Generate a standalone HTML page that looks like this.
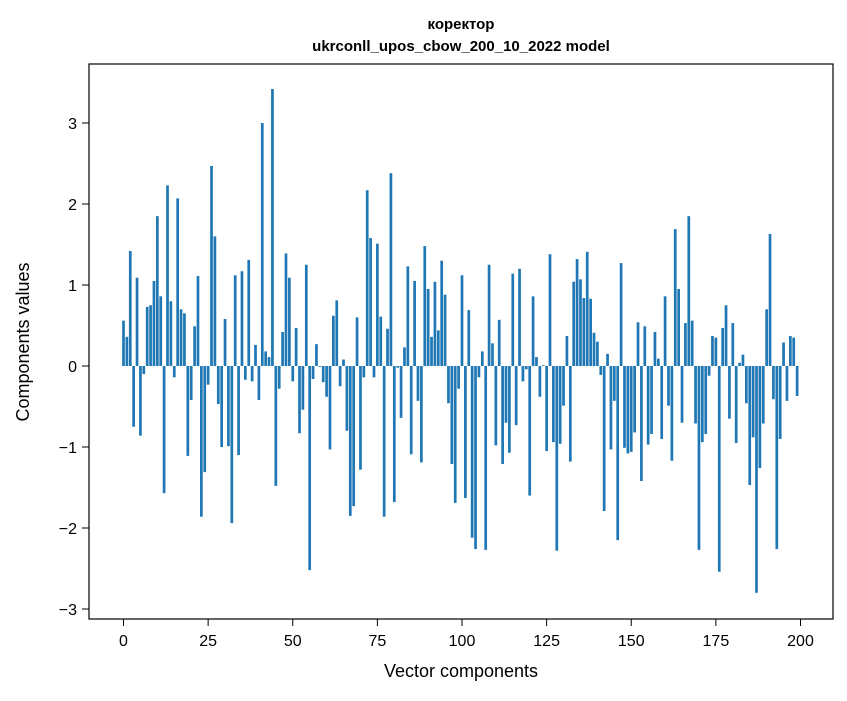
<!DOCTYPE html>
<html><head><meta charset="utf-8"><style>
html,body{margin:0;padding:0;background:#fff;}
svg text{font-family:"Liberation Sans","DejaVu Sans",sans-serif;fill:#000;}
</style></head><body>
<svg id="chart" width="847" height="696" xmlns="http://www.w3.org/2000/svg">
<rect width="847" height="696" fill="#fff"/>
<text x="461" y="29" font-size="15" font-weight="bold" text-anchor="middle">коректор</text>
<text x="461" y="51" font-size="15" font-weight="bold" text-anchor="middle">ukrconll_upos_cbow_200_10_2022 model</text>
<g id="bars"></g>
<g id="xticks"></g>
<g id="yticks"></g>
<rect x="89" y="64" width="744" height="555" fill="none" stroke="#000" stroke-width="1.2"/>
<text x="461" y="677" font-size="18" text-anchor="middle">Vector components</text>
<text x="29" y="342" font-size="18" text-anchor="middle" transform="rotate(-90 29 342)">Components values</text>
</svg>
<script>
const values = [0.56,0.36,1.42,-0.75,1.09,-0.86,-0.10,0.73,0.75,1.05,1.85,0.86,-1.57,2.23,0.80,-0.14,2.07,0.70,0.65,-1.11,
-0.42,0.49,1.11,-1.86,-1.31,-0.23,2.47,1.60,-0.47,-1.00,0.58,-0.99,-1.94,1.12,-1.10,1.17,-0.17,1.31,-0.19,0.26,
-0.42,3.00,0.18,0.11,3.42,-1.48,-0.28,0.42,1.39,1.09,-0.19,0.47,-0.83,-0.54,1.25,-2.52,-0.16,0.27,-0.01,-0.20,
-0.38,-1.03,0.62,0.81,-0.25,0.08,-0.80,-1.85,-1.73,0.60,-1.28,-0.14,2.17,1.58,-0.14,1.51,0.61,-1.86,0.46,2.38,
-1.68,-0.02,-0.64,0.23,1.23,-1.09,1.05,-0.43,-1.19,1.48,0.95,0.36,1.04,0.44,1.30,0.88,-0.46,-1.21,-1.69,-0.28,
1.12,-1.63,0.69,-2.12,-2.26,-0.14,0.18,-2.27,1.25,0.28,-0.98,0.57,-1.21,-0.70,-1.07,1.14,-0.73,1.20,-0.19,-0.04,
-1.60,0.86,0.11,-0.38,0.01,-1.05,1.38,-0.94,-2.28,-0.96,-0.49,0.37,-1.18,1.04,1.32,1.07,0.84,1.41,0.83,0.41,
0.30,-0.11,-1.79,0.15,-1.03,-0.43,-2.15,1.27,-1.01,-1.08,-1.06,-0.82,0.54,-1.42,0.49,-0.97,-0.84,0.42,0.09,-0.90,
0.86,-0.49,-1.17,1.69,0.95,-0.70,0.53,1.85,0.56,-0.71,-2.27,-0.94,-0.84,-0.12,0.37,0.35,-2.54,0.47,0.75,-0.65,
0.53,-0.95,0.04,0.14,-0.46,-1.47,-0.88,-2.80,-1.26,-0.71,0.70,1.63,-0.41,-2.26,-0.90,0.29,-0.43,0.37,0.35,-0.37];
const xTicks = [0,25,50,75,100,125,150,175,200];
const yTicks = [-3,-2,-1,0,1,2,3];
const yTickLabels = ["\u22123","\u22122","\u22121","0","1","2","3"];

const NS = "http://www.w3.org/2000/svg";
function xScale(v){ return 123.5 + v*3.385; }
function yScale(v){ return 366 - v*81; }
const bars = document.getElementById('bars');
values.forEach((v,i)=>{
  const r = document.createElementNS(NS,'rect');
  
  
  const y0 = yScale(0), y1 = yScale(v);
  r.setAttribute('x', xScale(i-0.4));
  r.setAttribute('width', xScale(0.8)-xScale(0));
  r.setAttribute('y', Math.min(y0,y1));
  r.setAttribute('height', Math.abs(y1-y0));
  r.setAttribute('fill', '#1f77b4');
  bars.appendChild(r);
});
const xg = document.getElementById('xticks');
xTicks.forEach(t=>{
  const l = document.createElementNS(NS,'line');
  
  
  l.setAttribute('x1', xScale(t)); l.setAttribute('x2', xScale(t));
  l.setAttribute('y1', 619); l.setAttribute('y2', 626);
  l.setAttribute('stroke', '#000');
  xg.appendChild(l);
  const tx = document.createElementNS(NS,'text');
  
  
  tx.setAttribute('x', xScale(t)); tx.setAttribute('y', 646);
  tx.setAttribute('font-size', '16'); tx.setAttribute('text-anchor', 'middle');
  tx.textContent = t;
  xg.appendChild(tx);
});
const yg = document.getElementById('yticks');
yTicks.forEach((t,i)=>{
  const l = document.createElementNS(NS,'line');
  
  
  l.setAttribute('x1', 82); l.setAttribute('x2', 89);
  l.setAttribute('y1', yScale(t)); l.setAttribute('y2', yScale(t));
  l.setAttribute('stroke', '#000');
  yg.appendChild(l);
  const tx = document.createElementNS(NS,'text');
  
  
  tx.setAttribute('x', 77); tx.setAttribute('y', yScale(t)+6);
  tx.setAttribute('font-size', '16'); tx.setAttribute('text-anchor', 'end');
  tx.textContent = yTickLabels[i];
  yg.appendChild(tx);
});
</script>
</body></html>
